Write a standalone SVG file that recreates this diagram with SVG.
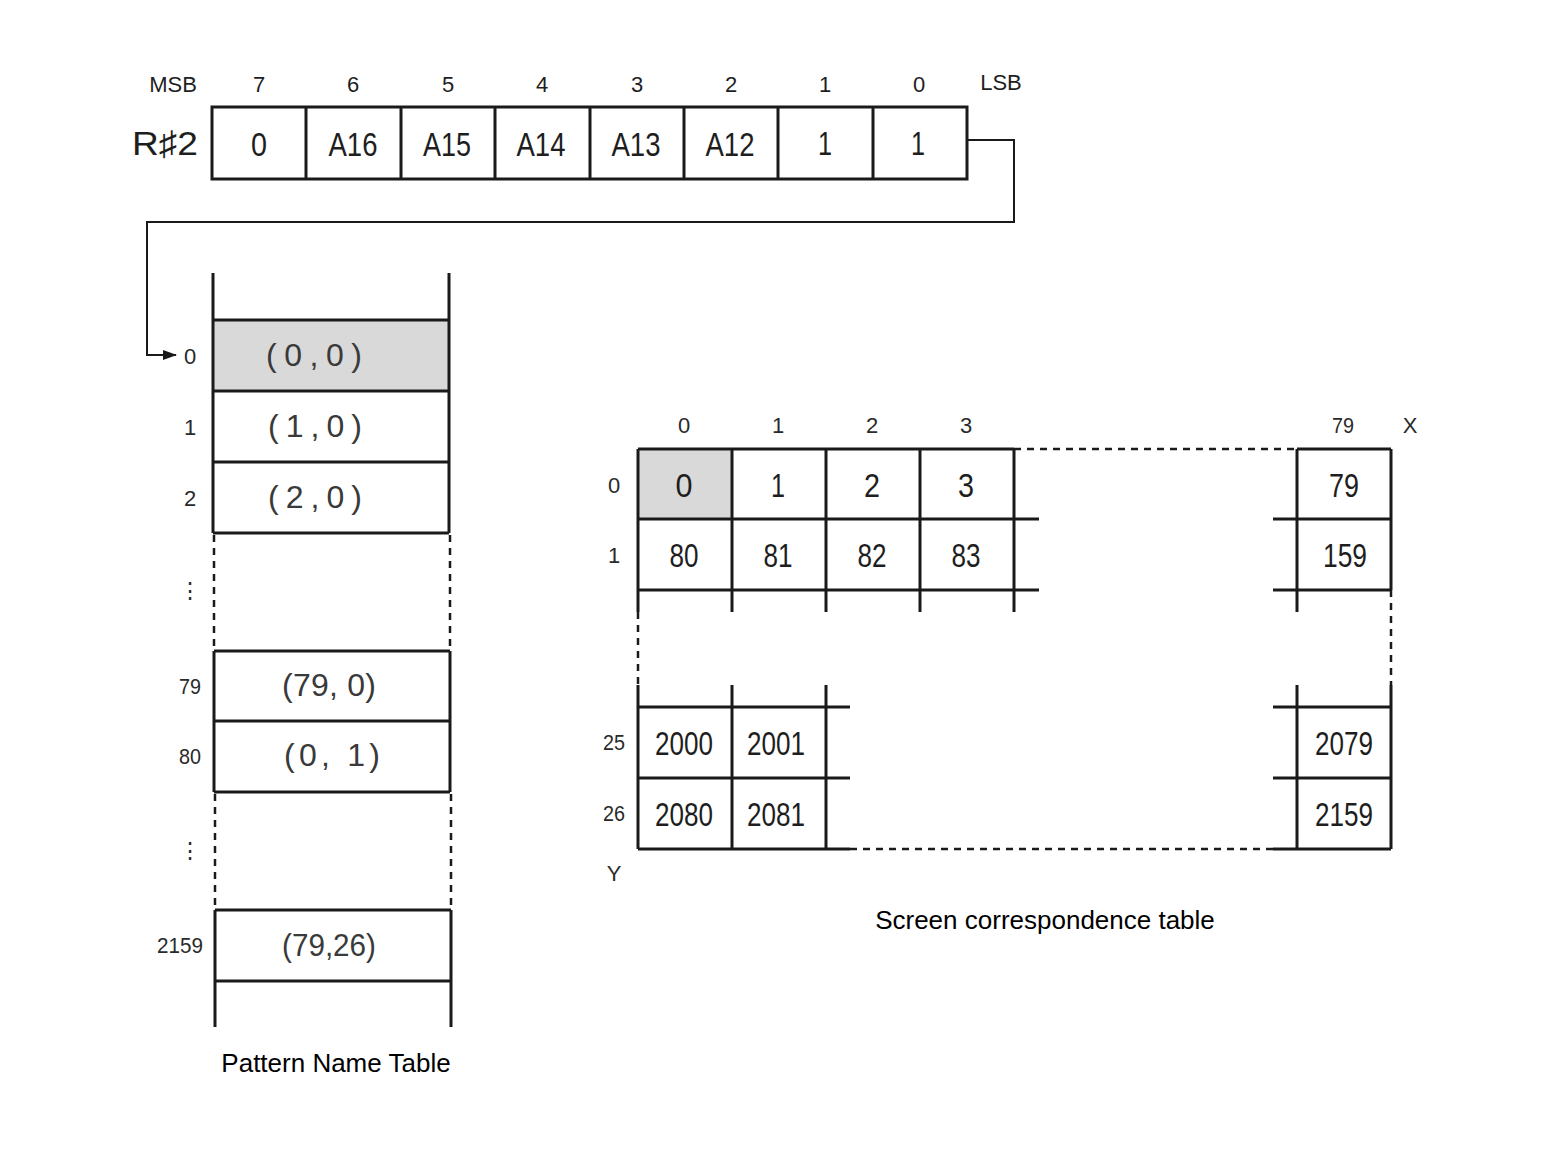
<svg xmlns="http://www.w3.org/2000/svg" width="1546" height="1150" viewBox="0 0 1546 1150">
<style>
.ln{stroke:#1a1a1a;stroke-width:3;fill:none}
.dl{stroke:#1a1a1a;stroke-width:2.5;fill:none;stroke-dasharray:7 6}
.cn{stroke:#1a1a1a;stroke-width:2;fill:none}
.t{font-family:"Liberation Sans",Arial,sans-serif;fill:#1e1e1e;text-anchor:middle;dominant-baseline:central}
.big{font-size:34px}
.sm{font-size:22px}
.lb{font-size:22px;fill:#2a2a2a}
.pt{font-family:"Liberation Sans",Arial,sans-serif;font-size:32px;fill:#3a3a3a;text-anchor:middle;dominant-baseline:central}
.cap{font-family:"Liberation Sans",Arial,sans-serif;font-size:26px;fill:#000;text-anchor:middle;dominant-baseline:central}
.sh{fill:#d9d9d9}
</style>
<defs>
<marker id="ah" markerWidth="14" markerHeight="10" refX="13" refY="5" orient="auto" markerUnits="userSpaceOnUse">
<path d="M0,0 L14,5 L0,10 z" fill="#1a1a1a"/>
</marker>
</defs>

<g id="register">
<text class="t sm" x="173" y="84">MSB</text>
<text class="t sm" x="259" y="84">7</text>
<text class="t sm" x="353" y="84">6</text>
<text class="t sm" x="448" y="84">5</text>
<text class="t sm" x="542" y="84">4</text>
<text class="t sm" x="637" y="84">3</text>
<text class="t sm" x="731" y="84">2</text>
<text class="t sm" x="825" y="84">1</text>
<text class="t sm" x="919" y="84">0</text>
<text class="t sm" x="1001" y="82">LSB</text>
<text class="t big" x="165" y="143" textLength="66" lengthAdjust="spacingAndGlyphs">R♯2</text>
<rect class="ln" x="212" y="107" width="755" height="72"/>
<path class="ln" d="M306,107V179M401,107V179M495,107V179M590,107V179M684,107V179M778,107V179M873,107V179"/>
<text class="t big" x="259" y="144" textLength="16" lengthAdjust="spacingAndGlyphs">0</text>
<text class="t big" x="353" y="144" textLength="49" lengthAdjust="spacingAndGlyphs">A16</text>
<text class="t big" x="447" y="144" textLength="48" lengthAdjust="spacingAndGlyphs">A15</text>
<text class="t big" x="541" y="144" textLength="49" lengthAdjust="spacingAndGlyphs">A14</text>
<text class="t big" x="636" y="144" textLength="49" lengthAdjust="spacingAndGlyphs">A13</text>
<text class="t big" x="730" y="144" textLength="49" lengthAdjust="spacingAndGlyphs">A12</text>
<text class="t big" x="825" y="143" textLength="14" lengthAdjust="spacingAndGlyphs">1</text>
<text class="t big" x="918" y="143" textLength="14" lengthAdjust="spacingAndGlyphs">1</text>
</g>

<g id="connectors">
<path class="cn" d="M967,140H1014V222H147V355H176" marker-end="url(#ah)"/>
</g>

<g id="pattern-name-table">
<rect class="sh" x="214" y="320" width="234" height="71"/>
<path class="ln" d="M213,273V533M449,273V533M214,651V792M450,651V792M215,910V1027M451,910V1027"/>
<path class="dl" d="M214,535V651M450,535V651M215,794V910M451,794V910"/>
<path class="ln" d="M213,320H449M213,391H449M213,462H449M213,533H449M214,651H450M214,721H450M214,792H450M215,910H451M215,981H451"/>
<text class="pt" x="314" y="355" textLength="96" lengthAdjust="spacing">(0,0)</text>
<text class="pt" x="315" y="426" textLength="94" lengthAdjust="spacing">(1,0)</text>
<text class="pt" x="315" y="497" textLength="94" lengthAdjust="spacing">(2,0)</text>
<text class="pt" x="329" y="685" textLength="94" lengthAdjust="spacing">(79, 0)</text>
<text class="pt" x="332" y="755" textLength="96" lengthAdjust="spacing">(0, 1)</text>
<text class="pt" x="329" y="945" textLength="94" lengthAdjust="spacingAndGlyphs">(79,26)</text>
<text class="t lb" x="190" y="356">0</text>
<text class="t lb" x="190" y="427">1</text>
<text class="t lb" x="190" y="498">2</text>
<text class="t lb" x="190" y="590">⋮</text>
<text class="t lb" x="190" y="686" textLength="22" lengthAdjust="spacingAndGlyphs">79</text>
<text class="t lb" x="190" y="756" textLength="22" lengthAdjust="spacingAndGlyphs">80</text>
<text class="t lb" x="190" y="850">⋮</text>
<text class="t lb" x="180" y="945" textLength="46" lengthAdjust="spacingAndGlyphs">2159</text>
<text class="cap" x="336" y="1063">Pattern Name Table</text>
</g>

<g id="screen-table">
<rect class="sh" x="638" y="449" width="94" height="70"/>
<path class="ln" d="M638,449H1014M1297,449H1391M638,519H1039M1273,519H1391M638,590H1039M1273,590H1391"/>
<path class="dl" d="M1014,449H1297M850,849H1273M638,612V685M1391,590V685"/>
<path class="ln" d="M638,449V612M732,449V612M826,449V612M920,449V612M1014,449V612M1297,449V612M1391,449V590"/>
<path class="ln" d="M638,685V849M732,685V849M826,685V849M1297,685V849M1391,685V849"/>
<path class="ln" d="M638,707H850M638,778H850M638,849H850M1273,707H1391M1273,778H1391M1273,849H1391"/>
<text class="t lb" x="684" y="425">0</text>
<text class="t lb" x="778" y="425">1</text>
<text class="t lb" x="872" y="425">2</text>
<text class="t lb" x="966" y="425">3</text>
<text class="t lb" x="1343" y="425" textLength="22" lengthAdjust="spacingAndGlyphs">79</text>
<text class="t lb" x="1410" y="425">X</text>
<text class="t lb" x="614" y="485">0</text>
<text class="t lb" x="614" y="555">1</text>
<text class="t lb" x="614" y="742" textLength="22" lengthAdjust="spacingAndGlyphs">25</text>
<text class="t lb" x="614" y="813" textLength="22" lengthAdjust="spacingAndGlyphs">26</text>
<text class="t lb" x="614" y="873">Y</text>
<text class="t big" x="684" y="485" textLength="17" lengthAdjust="spacingAndGlyphs">0</text>
<text class="t big" x="778" y="485" textLength="14" lengthAdjust="spacingAndGlyphs">1</text>
<text class="t big" x="872" y="485" textLength="16" lengthAdjust="spacingAndGlyphs">2</text>
<text class="t big" x="966" y="485" textLength="16" lengthAdjust="spacingAndGlyphs">3</text>
<text class="t big" x="1344" y="485" textLength="30" lengthAdjust="spacingAndGlyphs">79</text>
<text class="t big" x="684" y="555" textLength="29" lengthAdjust="spacingAndGlyphs">80</text>
<text class="t big" x="778" y="555" textLength="29" lengthAdjust="spacingAndGlyphs">81</text>
<text class="t big" x="872" y="555" textLength="29" lengthAdjust="spacingAndGlyphs">82</text>
<text class="t big" x="966" y="555" textLength="29" lengthAdjust="spacingAndGlyphs">83</text>
<text class="t big" x="1345" y="555" textLength="44" lengthAdjust="spacingAndGlyphs">159</text>
<text class="t big" x="684" y="743" textLength="58" lengthAdjust="spacingAndGlyphs">2000</text>
<text class="t big" x="776" y="743" textLength="58" lengthAdjust="spacingAndGlyphs">2001</text>
<text class="t big" x="1344" y="743" textLength="58" lengthAdjust="spacingAndGlyphs">2079</text>
<text class="t big" x="684" y="814" textLength="58" lengthAdjust="spacingAndGlyphs">2080</text>
<text class="t big" x="776" y="814" textLength="58" lengthAdjust="spacingAndGlyphs">2081</text>
<text class="t big" x="1344" y="814" textLength="58" lengthAdjust="spacingAndGlyphs">2159</text>
<text class="cap" x="1045" y="920">Screen correspondence table</text>
</g>
</svg>
